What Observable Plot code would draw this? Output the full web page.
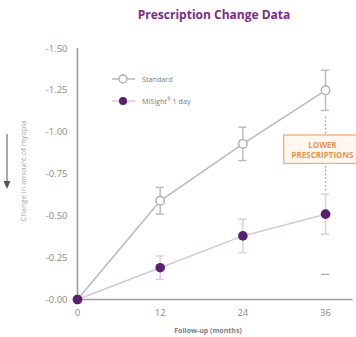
<!DOCTYPE html>
<html>
<head>
<meta charset="utf-8">
<script src="https://cdn.jsdelivr.net/npm/d3@7"></script>
<script src="https://cdn.jsdelivr.net/npm/@observablehq/plot@0.6"></script>
<style>
  body { margin: 0; width: 356px; height: 337px; overflow: hidden; position: relative; background: #fff; font-family: "Open Sans", sans-serif; }
  #title { height: 30px; line-height: 30px; padding-left: 72px; text-align: center; font-weight: 700; font-size: 12px; color: #7a2a8c; }
  .abs { position: absolute; white-space: nowrap; }
  #ytitle { left: 23px; top: 171px; transform: translate(-50%, -50%) rotate(-90deg); font-size: 7.5px; color: #a3a3a3; }
  #xtitle { left: 208px; top: 330px; transform: translate(-50%, -50%); font-size: 7px; font-weight: 700; color: #7d7d7d; }
  .leg { font-size: 7.2px; color: #7d7d7d; }
</style>
</head>
<body>
<div id="title">Prescription Change Data</div>
<div id="chart"></div>
<div class="abs" id="ytitle">Change in amount of myopia</div>
<div class="abs" id="xtitle">Follow-up (months)</div>
<svg class="abs" style="left:0;top:128px" width="16" height="66">
  <line x1="7" y1="6" x2="7" y2="54" stroke="#555" stroke-width="1"/>
  <path d="M3.5,53 L10.5,53 L7,61 Z" fill="#555"/>
</svg>
<svg class="abs" style="left:105px;top:70px" width="120" height="40">
  <line x1="7" y1="9" x2="30" y2="9" stroke="#b9b9b9" stroke-width="1.5"/>
  <circle cx="18" cy="9" r="4" fill="#fff" stroke="#ababab" stroke-width="1.3"/>
  <line x1="7" y1="31" x2="30" y2="31" stroke="#d8c6de" stroke-width="1.5"/>
  <circle cx="18" cy="31" r="4" fill="#5b1e70"/>
</svg>
<div class="abs leg" style="left:142px;top:74px">Standard</div>
<div class="abs leg" style="left:142px;top:96px">MiSight<sup style="font-size:4.5px">®</sup> 1 day</div>
<script>
const months = [0, 12, 24, 36];
const standardMean = [0, -0.59, -0.93, -1.25];
const standardErr = [0, 0.08, 0.10, 0.12];
const misightMean = [0, -0.19, -0.38, -0.51];
const misightErr = [0, 0.07, 0.10, 0.12];
const xTicks = [0, 12, 24, 36];
const yTicks = [-1.5, -1.25, -1, -0.75, -0.5, -0.25, 0];
const yTickLabels = ["-1.50", "-1.25", "-1.00", "-0.75", "-0.50", "-0.25", "-0.00"];
const calloutMonth = [36];
const calloutSpan = [-1.09, -0.64];
const calloutBox = [{x1: 30, x2: 42, y1: -0.98, y2: -0.81}];
const calloutText = ["LOWER\nPRESCRIPTIONS"];
const calloutTextPos = [{x: 35.55, y: -0.895}];
const strayMark = [{m: 36, v: -0.15}];

const standard = months.map((m, i) => ({m, v: standardMean[i], e: standardErr[i]}));
const misight = months.map((m, i) => ({m, v: misightMean[i], e: misightErr[i]}));
const capW = 0.6;

const chart = Plot.plot({
  width: 356, height: 307,
  marginTop: 18, marginBottom: 38, marginLeft: 77, marginRight: 3.4,
  style: {fontFamily: "Open Sans", fontSize: "9.5px", color: "#8a8a8a", background: "transparent"},
  x: {domain: [0, 40], ticks: xTicks, tickSize: 0, tickPadding: 10, tickFormat: d => String(d), label: null},
  y: {domain: [0, -1.5], ticks: yTicks, tickSize: 0, tickPadding: 10, tickFormat: d => yTickLabels[yTicks.indexOf(d)], label: null},
  marks: [
    Plot.ruleX([0], {stroke: "#9c9c9c", strokeWidth: 1.6}),
    Plot.ruleY([0], {stroke: "#9c9c9c", strokeWidth: 1.6}),
    // callout dotted line
    Plot.ruleX(calloutMonth, {x: d => d, y1: calloutSpan[0], y2: calloutSpan[1], stroke: "#f7902f", strokeWidth: 1.3, strokeDasharray: "1.6,2.2"}),
    Plot.rect(calloutBox, {x1: "x1", x2: "x2", y1: "y1", y2: "y2", fill: "#fff8f1", stroke: "#f5ab72", strokeWidth: 1.3}),
    Plot.text(calloutText, {x: calloutTextPos[0].x, y: calloutTextPos[0].y, text: d => d, fill: "#f3923e", fontWeight: 700, fontSize: 8, lineHeight: 1.25}),
    // stray tick
    Plot.ruleY(strayMark, {y: "v", x1: d => d.m - capW, x2: d => d.m + capW, stroke: "#9a9a9a", strokeWidth: 1}),
    // lines
    Plot.line(standard, {x: "m", y: "v", stroke: "#bababa", strokeWidth: 1.5}),
    Plot.line(misight, {x: "m", y: "v", stroke: "#d8c6de", strokeWidth: 1.5}),
    // error bars standard
    Plot.ruleX(standard.filter(d => d.e > 0), {x: "m", y1: d => d.v - d.e, y2: d => d.v + d.e, stroke: "#bdbdbd", strokeWidth: 1.5}),
    Plot.ruleY(standard.filter(d => d.e > 0), {y: d => d.v - d.e, x1: d => d.m - capW, x2: d => d.m + capW, stroke: "#bdbdbd", strokeWidth: 1.5}),
    Plot.ruleY(standard.filter(d => d.e > 0), {y: d => d.v + d.e, x1: d => d.m - capW, x2: d => d.m + capW, stroke: "#bdbdbd", strokeWidth: 1.5}),
    // error bars misight
    Plot.ruleX(misight.filter(d => d.e > 0), {x: "m", y1: d => d.v - d.e, y2: d => d.v + d.e, stroke: "#dccfe2", strokeWidth: 1.5}),
    Plot.ruleY(misight.filter(d => d.e > 0), {y: d => d.v - d.e, x1: d => d.m - capW, x2: d => d.m + capW, stroke: "#dccfe2", strokeWidth: 1.5}),
    Plot.ruleY(misight.filter(d => d.e > 0), {y: d => d.v + d.e, x1: d => d.m - capW, x2: d => d.m + capW, stroke: "#dccfe2", strokeWidth: 1.5}),
    // points
    Plot.dot(standard, {x: "m", y: "v", r: 4.3, fill: "#fff", stroke: "#acacac", strokeWidth: 1.4}),
    Plot.dot(misight, {x: "m", y: "v", r: 4.8, fill: "#5b1e70", stroke: "none"})
  ]
});
document.getElementById("chart").appendChild(chart);
</script>
</body>
</html>
